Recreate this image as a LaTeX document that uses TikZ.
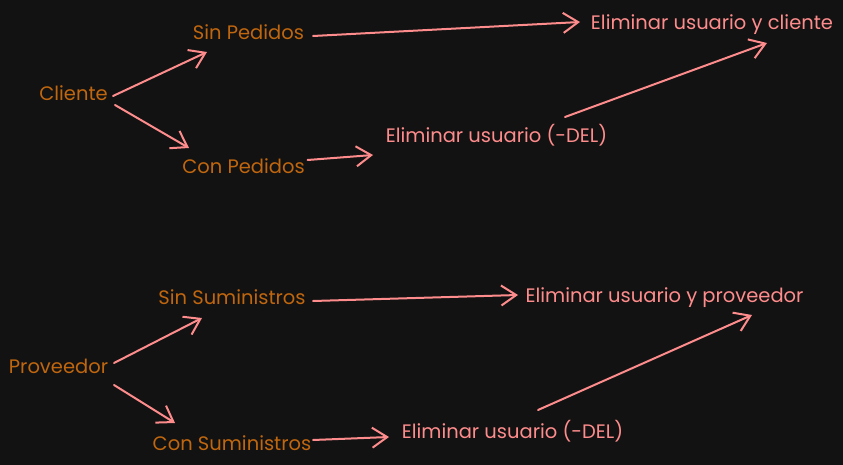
\documentclass[tikz,border=0pt]{standalone}
\usepackage{fontspec}
\setmainfont{Poppins}
\usetikzlibrary{arrows.meta}
\definecolor{fondo}{HTML}{121212}
\definecolor{naranja}{HTML}{C0660E}
\definecolor{rosa}{HTML}{FF8C8C}
\tikzset{>={Straight Barb[length=15pt,width=20pt]}}

\begin{document}
\begin{tikzpicture}[x=1pt,y=-1pt,
    ent/.style={text=naranja,anchor=base,inner sep=0pt,font=\fontsize{19.5}{23}\selectfont},
    acc/.style={text=rosa,anchor=base,inner sep=0pt,font=\fontsize{19.5}{23}\selectfont},
    flecha/.style={->,rosa,line width=2pt,line cap=round,line join=round}]
     \fill[fondo] (0,0) rectangle (843,465);
     % clientes
     \node[ent] (cli)  at (73.5,101) {Cliente};
     \node[ent] (sinp) at (248.5,40) {Sin Pedidos};
     \node[ent] (conp) at (243.5,174) {Con Pedidos};
     \node[acc] (elimc) at (712,30) {Eliminar usuario y cliente};
     \node[acc] (delc) at (496.5,143) {Eliminar usuario (-DEL)};
     \draw[flecha] ([shift={(39.5,-5)}]cli.base) -- ([shift={(-41.5,12)}]sinp.base);
     \draw[flecha] ([shift={(41.5,4)}]cli.base) -- ([shift={(-54.5,-26)}]conp.base);
     \draw[flecha] ([shift={(64.5,-4)}]sinp.base) -- ([shift={(-132,-8)}]elimc.base);
     \draw[flecha] ([shift={(64,-14)}]conp.base) -- ([shift={(-123.5,12)}]delc.base);
     \draw[flecha] ([shift={(68.5,-26)}]delc.base) -- ([shift={(55,13)}]elimc.base);
     % proveedores
     \node[ent] (prov) at (58.5,373) {Proveedor};
     \node[ent] (sins) at (232,304) {Sin Suministros};
     \node[ent] (cons) at (232,450) {Con Suministros};
     \node[acc] (elimp) at (664.5,302) {Eliminar usuario y proveedor};
     \node[acc] (delp) at (512.5,438) {Eliminar usuario (-DEL)};
     \draw[flecha] ([shift={(55.5,-10)}]prov.base) -- ([shift={(-30,14)}]sins.base);
     \draw[flecha] ([shift={(55.5,12)}]prov.base) -- ([shift={(-57,-27)}]cons.base);
     \draw[flecha] ([shift={(81,-3)}]sins.base) -- ([shift={(-146.5,-7)}]elimp.base);
     \draw[flecha] ([shift={(81,-10)}]cons.base) -- ([shift={(-123.5,-1)}]delp.base);
     \draw[flecha] ([shift={(25.5,-28)}]delp.base) -- ([shift={(87.5,13)}]elimp.base);
\end{tikzpicture}
\end{document}
